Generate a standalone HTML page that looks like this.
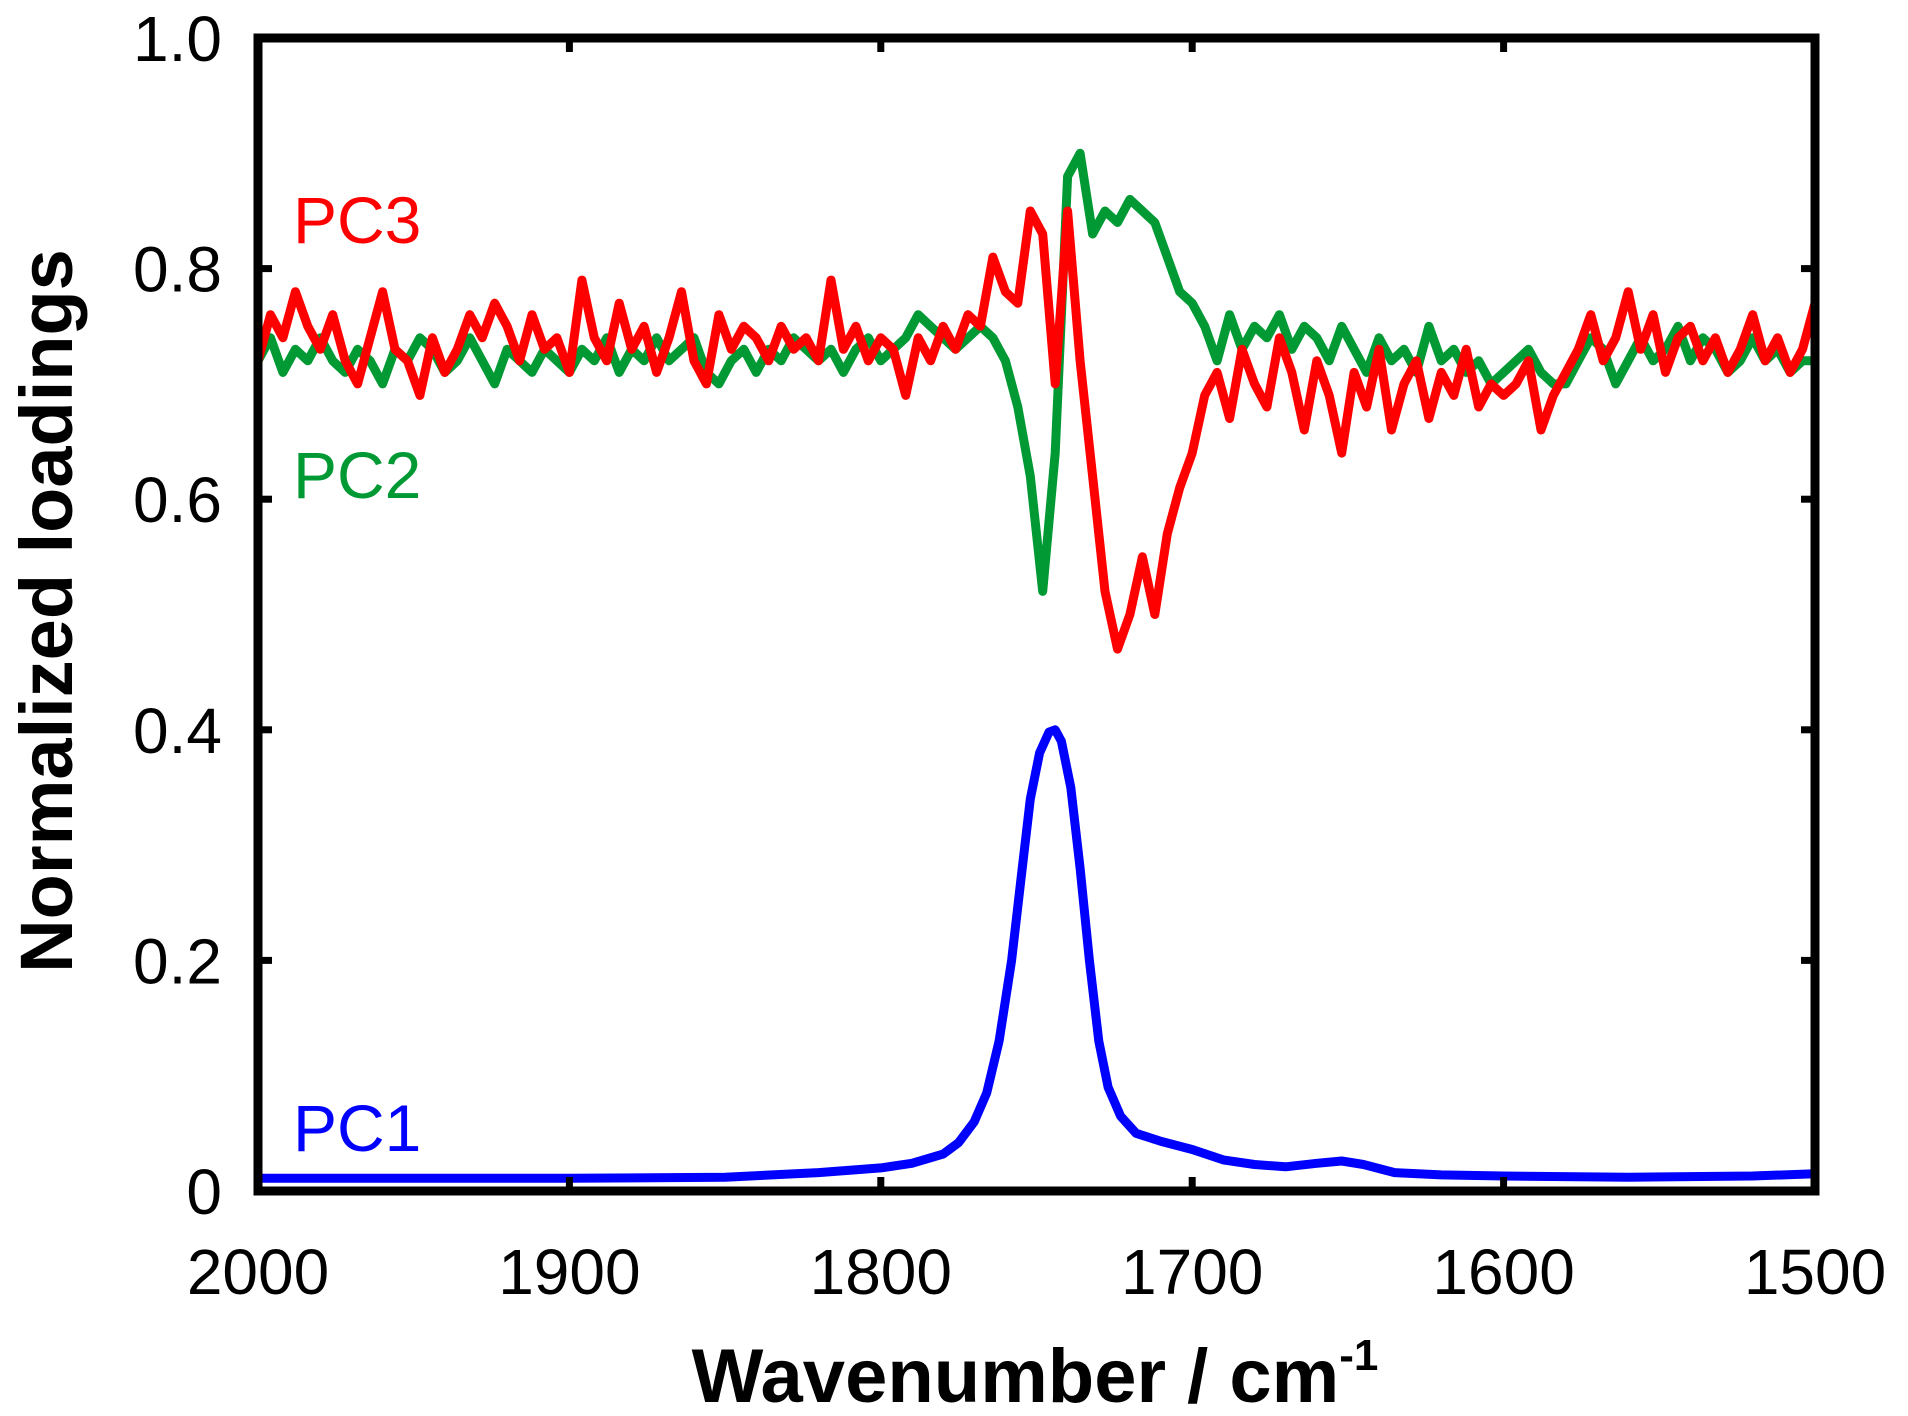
<!DOCTYPE html>
<html><head><meta charset="utf-8"><style>
html,body{margin:0;padding:0;background:#fff;}
svg{display:block;font-family:"Liberation Sans",Arial,sans-serif;}
</style></head><body>
<svg id="chart" width="1908" height="1416" viewBox="0 0 1908 1416" xmlns="http://www.w3.org/2000/svg">
<g id="series"></g>
<g id="axes"></g>
<text x="293" y="243" font-size="66" fill="#ff0000">PC3</text>
<text x="293" y="498" font-size="66" fill="#009933">PC2</text>
<text x="293" y="1151" font-size="66" fill="#0000ff">PC1</text>
<text x="1035" y="1402" font-size="76" font-weight="bold" text-anchor="middle">Wavenumber / cm<tspan font-size="44" dy="-32">-1</tspan></text>
<text transform="translate(72,611) rotate(-90)" font-size="74" font-weight="bold" text-anchor="middle">Normalized loadings</text>
</svg>
<script>
const xTicks = [2000, 1900, 1800, 1700, 1600, 1500];
const xTickLabels = ["2000", "1900", "1800", "1700", "1600", "1500"];
const yTicks = [0, 0.2, 0.4, 0.6, 0.8, 1.0];
const yTickLabels = ["0", "0.2", "0.4", "0.6", "0.8", "1.0"];
const gridStart = 2000;
const gridStep = -4;
const pc3Values = [0.72,0.76,0.74,0.78,0.75,0.73,0.76,0.72,0.70,0.74,0.78,0.73,0.72,0.69,0.74,0.71,0.73,0.76,0.74,0.77,0.75,0.72,0.76,0.73,0.74,0.71,
0.79,0.74,0.72,0.77,0.73,0.75,0.71,0.74,0.78,0.72,0.70,0.76,0.73,0.75,0.74,0.72,0.75,0.73,0.74,0.72,0.79,0.73,0.75,0.72,0.74,
0.73,0.69,0.74,0.72,0.75,0.73,0.76,0.75,0.81,0.78,0.77,0.85,0.83,0.70,0.85,0.72,0.62,0.52,0.47,0.50,0.55,0.50,0.57,0.61,0.64,
0.69,0.71,0.67,0.73,0.70,0.68,0.74,0.71,0.66,0.72,0.69,0.64,0.71,0.68,0.73,0.66,0.70,0.72,0.67,0.71,0.69,0.73,0.68,0.70,0.69,
0.70,0.72,0.66,0.69,0.71,0.73,0.76,0.72,0.74,0.78,0.73,0.76,0.71,0.74,0.75,0.72,0.74,0.71,0.73,0.76,0.72,0.74,0.71,0.73,0.77];
const pc2Values = [0.72,0.74,0.71,0.73,0.72,0.74,0.72,0.71,0.73,0.72,0.70,0.73,0.72,0.74,0.73,0.71,0.72,0.74,0.72,0.70,0.73,0.72,0.71,0.73,0.72,0.71,
0.73,0.72,0.74,0.71,0.73,0.72,0.74,0.72,0.73,0.74,0.71,0.70,0.72,0.73,0.71,0.73,0.72,0.74,0.73,0.72,0.73,0.71,0.73,0.74,0.72,
0.73,0.74,0.76,0.75,0.74,0.73,0.74,0.75,0.74,0.72,0.68,0.62,0.52,0.64,0.88,0.90,0.83,0.85,0.84,0.86,0.85,0.84,0.81,0.78,0.77,
0.75,0.72,0.76,0.73,0.75,0.74,0.76,0.73,0.75,0.74,0.72,0.75,0.73,0.71,0.74,0.72,0.73,0.71,0.75,0.72,0.73,0.71,0.72,0.70,0.71,
0.72,0.73,0.71,0.70,0.70,0.72,0.74,0.73,0.70,0.72,0.74,0.72,0.73,0.75,0.72,0.74,0.73,0.71,0.72,0.74,0.72,0.73,0.71,0.72,0.72];
const pc1X = [2000,1900,1850,1820,1800,1790,1780,1775,1770,1766,1762,1758,1755,1752,1749,1746,1744,1742,1739,1736,1733,1730,1727,1723,1718,1710,1700,1690,1680,1670,1660,1652,1645,1635,1620,1600,1560,1520,1500];
const pc1Values = [0.011,0.011,0.012,0.016,0.020,0.024,0.032,0.042,0.060,0.085,0.13,0.20,0.27,0.34,0.38,0.398,0.40,0.39,0.35,0.28,0.20,0.13,0.09,0.065,0.05,0.043,0.036,0.027,0.023,0.021,0.024,0.026,0.023,0.016,0.014,0.013,0.012,0.013,0.015];

const X0 = 258, X1 = 1815, Y0 = 1191, Y1 = 38;
function xs(w){ return X0 + (gridStart - w) / (2000 - 1500) * (X1 - X0); }
function ys(v){ return Y0 - v * (Y0 - Y1); }
const NS = "http://www.w3.org/2000/svg";
const series = document.getElementById('series');
const axes = document.getElementById('axes');

function line(xarr, varr, color, name){
  const p = document.createElementNS(NS, 'path');
  let d = '';
  for (let i = 0; i < varr.length; i++){
    d += (i ? 'L' : 'M') + xs(xarr[i]).toFixed(1) + ',' + ys(varr[i]).toFixed(1);
  }
  p.setAttribute('d', d);
  p.setAttribute('fill', 'none');
  p.setAttribute('stroke', color);
  p.setAttribute('stroke-width', '9');
  p.setAttribute('stroke-linejoin', 'round');
  
  
  series.appendChild(p);
}
const gridX = pc3Values.map((_, i) => gridStart + i * gridStep);
line(gridX, pc2Values, '#009933', 'pc2-line');
line(gridX, pc3Values, '#ff0000', 'pc3-line');
line(pc1X, pc1Values, '#0000ff', 'pc1-line');

const frame = document.createElementNS(NS, 'rect');
frame.setAttribute('x', X0); frame.setAttribute('y', Y1);
frame.setAttribute('width', X1 - X0); frame.setAttribute('height', Y0 - Y1);
frame.setAttribute('fill', 'none'); frame.setAttribute('stroke', '#000'); frame.setAttribute('stroke-width', '9');


axes.appendChild(frame);

function tick(x1, y1, x2, y2, name){
  const t = document.createElementNS(NS, 'line');
  t.setAttribute('x1', x1); t.setAttribute('y1', y1); t.setAttribute('x2', x2); t.setAttribute('y2', y2);
  t.setAttribute('stroke', '#000'); t.setAttribute('stroke-width', '7');
  
  
  axes.appendChild(t);
}
function label(x, y, s, anchor, name){
  const t = document.createElementNS(NS, 'text');
  t.setAttribute('x', x); t.setAttribute('y', y);
  t.setAttribute('font-size', '64'); t.setAttribute('text-anchor', anchor);
  t.textContent = s;
  
  
  axes.appendChild(t);
}
xTicks.forEach((w, i) => {
  const x = xs(w);
  tick(x, Y0, x, Y0 - 14, 'x-tick');
  tick(x, Y1, x, Y1 + 14, 'x-tick-top');
  label(x, 1294, xTickLabels[i], 'middle', 'x-tick-label');
});
yTicks.forEach((v, i) => {
  const y = ys(v);
  tick(X0, y, X0 + 14, y, 'y-tick');
  tick(X1, y, X1 - 14, y, 'y-tick-right');
  label(222, y + 23, yTickLabels[i], 'end', 'y-tick-label');
});
</script>
</body></html>
